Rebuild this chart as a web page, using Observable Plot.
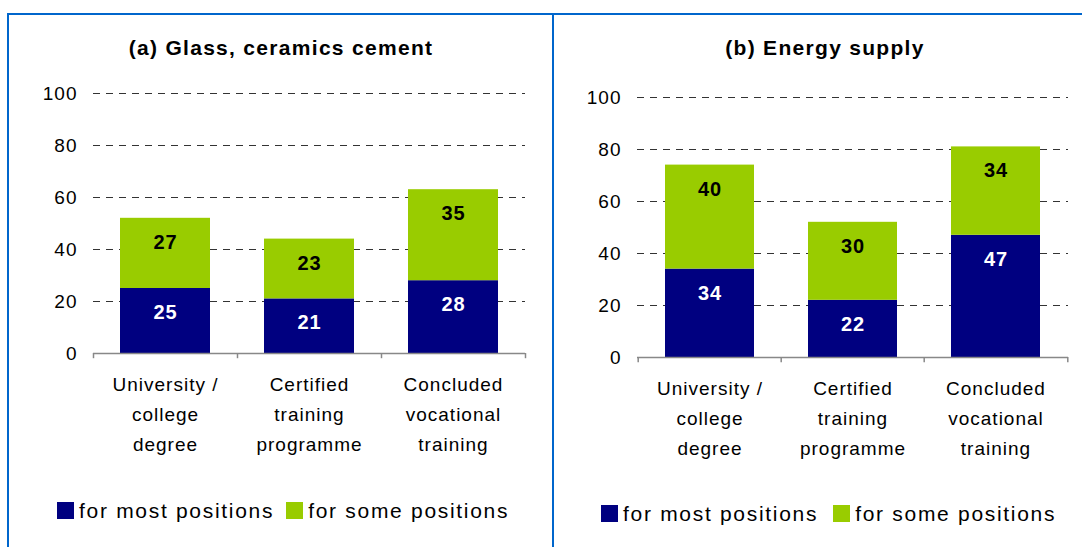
<!DOCTYPE html>
<html><head><meta charset="utf-8">
<script src="https://cdn.jsdelivr.net/npm/d3@7"></script>
<script src="https://cdn.jsdelivr.net/npm/@observablehq/plot@0.6"></script>
<style>
html,body{margin:0;padding:0;background:#fff;}
#page{position:relative;width:1082px;height:547px;overflow:hidden;font-family:"Liberation Sans",Arial,sans-serif;background:#fff;}
.line{position:absolute;background:#0066cc;}
.title{position:absolute;font-weight:bold;font-size:21px;letter-spacing:1.3px;line-height:21px;color:#000;white-space:nowrap;transform:translateX(-50%);}
.chart{position:absolute;top:70px;}
.legend{position:absolute;display:flex;align-items:center;font-size:21px;letter-spacing:1.7px;white-space:nowrap;line-height:21px;color:#000;}
.sw{width:17px;height:17px;display:inline-block;flex:none;}
</style></head><body><div id="page">
<div class="line" style="left:7px;top:13px;width:1075px;height:2px;"></div>
<div class="line" style="left:7px;top:13px;width:2px;height:534px;"></div>
<div class="line" style="left:552px;top:13px;width:2px;height:534px;"></div>
<div id="titleA" class="title" style="left:281px;top:37px;"></div>
<div id="titleB" class="title" style="left:825px;top:37px;"></div>
<div id="chartA" class="chart" style="left:0px;"></div>
<div id="chartB" class="chart" style="left:553px;"></div>
<div id="legendA" class="legend" style="left:57px;top:500px;"></div>
<div id="legendB" class="legend" style="left:601px;top:503px;"></div>
</div>
<script>
const categories = ["University /\ncollege\ndegree", "Certified\ntraining\nprogramme", "Concluded\nvocational\ntraining"];
const seriesNames = ["for most positions", "for some positions"];
const seriesColors = ["#000080", "#99cc00"];
const labelColors = ["#ffffff", "#000000"];
const panelTitles = ["(a) Glass, ceramics cement", "(b) Energy supply"];
const glassMost = [25, 21, 28];
const glassSome = [27, 23, 35];
const energyMost = [34, 22, 47];
const energySome = [40, 30, 34];
const yTicks = [0, 20, 40, 60, 80, 100];
const gridTicks = [20, 40, 60, 80, 100];

function rowsOf(most, some) {
  return categories.flatMap((c, i) => [
    {cat: c, series: seriesNames[0], value: most[i]},
    {cat: c, series: seriesNames[1], value: some[i]}
  ]);
}

function panel(rows, {width, marginLeft, marginRight, marginTop, marginBottom, half}) {
  return Plot.plot({
    width,
    height: marginTop + 260 + marginBottom,
    marginLeft, marginRight, marginTop, marginBottom,
    style: {fontFamily: '"Liberation Sans", Arial, sans-serif', fontSize: "19px", letterSpacing: "1px", background: "transparent", overflow: "visible", color: "#000"},
    x: {domain: categories, paddingInner: 0.375, paddingOuter: 0.1875},
    y: {domain: [0, 100]},
    color: {domain: seriesNames, range: seriesColors},
    marks: [
      Plot.ruleY(gridTicks, {stroke: "#333", strokeDasharray: "7,6", strokeWidth: 1}),
      Plot.barY(rows, {x: "cat", y: "value", fill: "series"}),
      Plot.ruleY([0], {stroke: "#888", strokeWidth: 1.5}),
      Plot.ruleX(categories, {x: d => d, y1: 0, y2: -2, dx: -half, stroke: "#888", strokeWidth: 1.5}),
      Plot.ruleX(categories.slice(-1), {x: d => d, y1: 0, y2: -2, dx: half, stroke: "#888", strokeWidth: 1.5}),
      Plot.axisY({ticks: yTicks, tickSize: 0, tickPadding: 16, fontSize: 19, label: null, fill: "#000"}),
      Plot.axisX({tickSize: 0, tickPadding: 16.5, fontSize: 19, lineHeight: 1.58, label: null, fill: "#000"}),
      Plot.text(rows, Plot.stackY2({x: "cat", y: "value", text: d => d.series === seriesNames[0] ? String(d.value) : null, fill: labelColors[0], dy: 24, fontSize: 20, fontWeight: "bold", letterSpacing: "0.5px"})),
      Plot.text(rows, Plot.stackY2({x: "cat", y: "value", text: d => d.series === seriesNames[1] ? String(d.value) : null, fill: labelColors[1], dy: 24, fontSize: 20, fontWeight: "bold", letterSpacing: "0.5px"}))
    ]
  });
}

document.getElementById("chartA").appendChild(panel(rowsOf(glassMost, glassSome), {width: 553, marginLeft: 93, marginRight: 28, marginTop: 23, marginBottom: 110, half: 72}));
document.getElementById("chartB").appendChild(panel(rowsOf(energyMost, energySome), {width: 529, marginLeft: 84, marginRight: 14, marginTop: 27, marginBottom: 110, half: 71.8}));
document.getElementById("titleA").textContent = panelTitles[0];
document.getElementById("titleB").textContent = panelTitles[1];

function legend(el, gaps) {
  seriesNames.forEach((name, i) => {
    const sw = document.createElement("span");
    sw.className = "sw";
    sw.style.background = seriesColors[i];
    sw.style.marginLeft = (i === 0 ? 0 : gaps[1]) + "px";
    sw.style.marginRight = gaps[0] + "px";
    const t = document.createElement("span");
    t.textContent = name;
    el.appendChild(sw);
    el.appendChild(t);
  });
}
legend(document.getElementById("legendA"), [5, 12]);
legend(document.getElementById("legendB"), [5, 15]);
</script>
</body></html>
